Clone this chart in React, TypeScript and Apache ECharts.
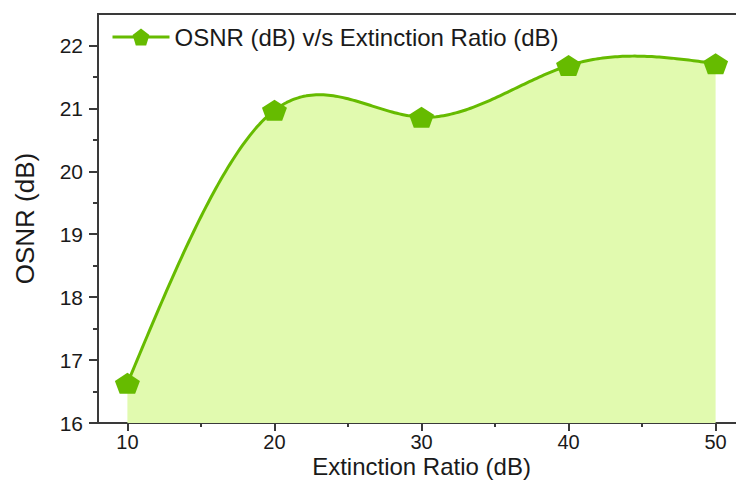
import React, { useEffect, useRef } from "react";
import * as echarts from "echarts";

const extinctionRatio = [10, 20, 30, 40, 50];
const osnr = [16.63, 20.97, 20.86, 21.68, 21.71];
const xTickValues = [10, 20, 30, 40, 50];
const xMinorTickValues = [15, 25, 35, 45];
const yTickValues = [16, 17, 18, 19, 20, 21, 22];
const yMinorTickValues = [16.5, 17.5, 18.5, 19.5, 20.5, 21.5];
const seriesName = "OSNR (dB) v/s Extinction Ratio (dB)";

const pentagon =
  "path://M50,0 L97.55,34.55 L79.39,90.45 L20.61,90.45 L2.45,34.55 Z";

const FONT = "'Liberation Sans', Arial, sans-serif";
const AXIS_COLOR = "#3a3a3a";
const GREEN = "#66bb00";
const FILL = "#e1faaf";
const Y_MIN = 16;

// natural cubic spline through the data (how the original plotting tool draws the curve)
function naturalSpline(xs: number[], ys: number[]) {
  const n = xs.length;
  const h: number[] = [];
  for (let i = 0; i < n - 1; i++) h.push(xs[i + 1] - xs[i]);
  const M = new Array(n).fill(0);
  if (n > 2) {
    const a: number[] = [], b: number[] = [], c: number[] = [], d: number[] = [];
    for (let i = 1; i < n - 1; i++) {
      a.push(h[i - 1]);
      b.push(2 * (h[i - 1] + h[i]));
      c.push(h[i]);
      d.push(6 * ((ys[i + 1] - ys[i]) / h[i] - (ys[i] - ys[i - 1]) / h[i - 1]));
    }
    const m = b.length;
    for (let i = 1; i < m; i++) {
      const w = a[i] / b[i - 1];
      b[i] -= w * c[i - 1];
      d[i] -= w * d[i - 1];
    }
    const sol = new Array(m).fill(0);
    sol[m - 1] = d[m - 1] / b[m - 1];
    for (let i = m - 2; i >= 0; i--) sol[i] = (d[i] - c[i] * sol[i + 1]) / b[i];
    for (let i = 0; i < m; i++) M[i + 1] = sol[i];
  }
  return (x: number) => {
    let i = 0;
    while (i < n - 2 && x > xs[i + 1]) i++;
    const hi = h[i];
    const t1 = xs[i + 1] - x;
    const t0 = x - xs[i];
    return (
      (M[i] * t1 * t1 * t1) / (6 * hi) +
      (M[i + 1] * t0 * t0 * t0) / (6 * hi) +
      (ys[i] / hi - (M[i] * hi) / 6) * t1 +
      (ys[i + 1] / hi - (M[i + 1] * hi) / 6) * t0
    );
  };
}

export default function App() {
  const ref = useRef<HTMLDivElement>(null);
  useEffect(() => {
    if (!ref.current) return;
    const chart = echarts.init(ref.current, null, { renderer: "svg" });
    const lineStyle = { color: AXIS_COLOR, width: 2 };
    const spline = naturalSpline(extinctionRatio, osnr);
    const points = extinctionRatio.map((x, i) => [x, osnr[i]]);

    const renderCurve = (params: any, api: any) => {
      if (params.dataIndex !== 0) return null;
      const x0 = extinctionRatio[0];
      const x1 = extinctionRatio[extinctionRatio.length - 1];
      const steps = 240;
      const curve: number[][] = [];
      for (let k = 0; k <= steps; k++) {
        const x = x0 + ((x1 - x0) * k) / steps;
        curve.push(api.coord([x, spline(x)]));
      }
      const area = curve.concat([api.coord([x1, Y_MIN]), api.coord([x0, Y_MIN])]);
      return {
        type: "group",
        children: [
          {
            type: "polygon",
            shape: { points: area },
            style: { fill: FILL, stroke: null },
            silent: true,
          },
          {
            type: "polyline",
            shape: { points: curve },
            style: { fill: null, stroke: GREEN, lineWidth: 3, lineJoin: "round" },
            silent: true,
          },
        ],
      };
    };

    chart.setOption({
      animation: false,
      backgroundColor: "#ffffff",
      textStyle: { fontFamily: FONT },
      grid: {
        left: 98,
        top: 14,
        bottom: 57,
        right: -9,
        outerBoundsMode: "none",
        containLabel: false,
        show: true,
        borderColor: AXIS_COLOR,
        borderWidth: 2,
        backgroundColor: "transparent",
      },
      legend: {
        show: true,
        left: 106,
        top: 20,
        itemWidth: 57,
        itemHeight: 21,
        textStyle: { fontFamily: FONT, fontSize: 24, color: "#1a1a1a" },
        lineStyle: { color: GREEN, width: 3, opacity: 1 },
        data: [seriesName],
      },
      xAxis: [
        {
          type: "value",
          min: 8,
          max: 52,
          position: "bottom",
          name: "Extinction Ratio (dB)",
          nameLocation: "middle",
          nameGap: 30,
          nameMoveOverlap: false,
          nameTextStyle: {
            fontFamily: FONT,
            fontSize: 24,
            lineHeight: 27,
            color: "#1a1a1a",
            verticalAlign: "top",
          },
          axisLine: { show: true, lineStyle },
          axisTick: { show: true, customValues: xTickValues, length: 8, lineStyle },
          axisLabel: {
            customValues: xTickValues,
            margin: 9,
            fontFamily: FONT,
            fontSize: 20,
            lineHeight: 20,
            color: "#1a1a1a",
          },
          splitLine: { show: false },
        },
        {
          type: "value",
          min: 8,
          max: 52,
          position: "bottom",
          axisLine: { show: false },
          axisTick: { show: true, customValues: xMinorTickValues, length: 4, lineStyle },
          axisLabel: { show: false },
          splitLine: { show: false },
        },
      ],
      yAxis: [
        {
          type: "value",
          min: Y_MIN,
          max: 22.5,
          interval: 0.5,
          position: "left",
          name: "OSNR (dB)",
          nameLocation: "middle",
          nameGap: 60,
          nameMoveOverlap: false,
          nameTextStyle: { fontFamily: FONT, fontSize: 26, color: "#1a1a1a" },
          axisLine: { show: true, lineStyle },
          axisTick: { show: true, customValues: yTickValues, length: 9, lineStyle },
          axisLabel: {
            customValues: yTickValues,
            margin: 15,
            fontFamily: FONT,
            fontSize: 21,
            color: "#1a1a1a",
          },
          splitLine: { show: false },
        },
        {
          type: "value",
          min: Y_MIN,
          max: 22.5,
          interval: 0.5,
          position: "left",
          axisLine: { show: false },
          axisTick: { show: true, customValues: yMinorTickValues, length: 5, lineStyle },
          axisLabel: { show: false },
          splitLine: { show: false },
        },
      ],
      series: [
        {
          name: "curve",
          type: "custom",
          coordinateSystem: "cartesian2d",
          xAxisIndex: 0,
          yAxisIndex: 0,
          data: points,
          encode: { x: 0, y: 1 },
          renderItem: renderCurve,
          z: 2,
          silent: true,
        },
        {
          name: seriesName,
          type: "line",
          xAxisIndex: 0,
          yAxisIndex: 0,
          data: points,
          symbol: pentagon,
          symbolSize: [25, 21],
          itemStyle: { color: GREEN },
          lineStyle: { color: GREEN, width: 0, opacity: 0 },
          z: 5,
        },
      ],
    });
    return () => chart.dispose();
  }, []);
  return (
    <div
      ref={ref}
      style={{ position: "absolute", left: 0, top: 0, width: 736, height: 480 }}
    />
  );
}
